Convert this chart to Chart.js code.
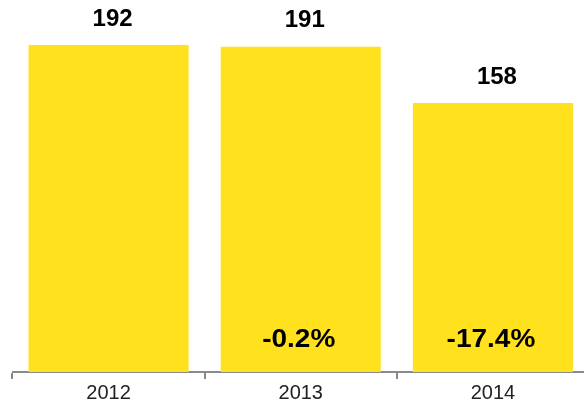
<!DOCTYPE html>
<html>
<head>
<meta charset="utf-8">
<script src="https://cdn.jsdelivr.net/npm/chart.js@4"></script>
<style>
  html, body { margin: 0; padding: 0; background: #fff; overflow: hidden; }
  #wrap { width: 584px; height: 407px; overflow: hidden; }
  #wrap div { width: 590px; height: 407px; position: relative; }
</style>
</head>
<body>
<div id="wrap"><div><canvas id="chart"></canvas></div></div>
<script>
// Chart data
const years = ['2012', '2013', '2014'];
const values = [192, 191, 158];
const changes = ['', '-0.2%', '-17.4%'];

const barColor = '#FFE11E';
const axisColor = '#8a8a8a';
const fontFamily = '"Liberation Sans", Arial, Helvetica, sans-serif';

// text a bit wider than Liberation Sans, like the original bold face
function wideText(ctx, text, x, y, stretch) {
  ctx.save();
  ctx.translate(x, y);
  ctx.scale(stretch, 1);
  ctx.fillText(text, 0, 0);
  ctx.restore();
}

// Draws the value above each bar and the change inside the bottom of the bar
const labelPlugin = {
  id: 'barLabels',
  afterDatasetsDraw(chart) {
    const ctx = chart.ctx;
    const meta = chart.getDatasetMeta(0);
    const yScale = chart.scales.y;
    ctx.save();
    ctx.fillStyle = '#000';
    ctx.textAlign = 'center';
    ctx.textBaseline = 'middle';
    meta.data.forEach((bar, i) => {
      ctx.font = 'bold 24px ' + fontFamily;
      wideText(ctx, String(values[i]), bar.x + 4, bar.y - 26, 1.0);
      if (changes[i]) {
        ctx.font = 'bold 25px ' + fontFamily;
        wideText(ctx, changes[i], bar.x - 2, yScale.getPixelForValue(0) - 32, 1.12);
      }
    });
    ctx.restore();
  }
};

new Chart(document.getElementById('chart'), {
  type: 'bar',
  data: {
    labels: years,
    datasets: [{
      data: values,
      backgroundColor: barColor,
      borderWidth: 0,
      barPercentage: 0.833,
      categoryPercentage: 1
    }]
  },
  options: {
    responsive: true,
    maintainAspectRatio: false,
    animation: false,
    layout: { padding: { left: 12.5, right: 1, top: 0, bottom: 0 } },
    plugins: {
      legend: { display: false },
      tooltip: { enabled: false }
    },
    scales: {
      x: {
        grid: {
          display: true,
          drawOnChartArea: false,
          drawTicks: true,
          tickLength: 7,
          color: axisColor,
          lineWidth: 2
        },
        border: { display: true, color: axisColor, width: 2 },
        ticks: {
          color: '#222',
          font: { family: fontFamily, size: 20 },
          padding: 2
        }
      },
      y: {
        display: false,
        min: 0,
        max: 218.4
      }
    }
  },
  plugins: [labelPlugin]
});
</script>
</body>
</html>
